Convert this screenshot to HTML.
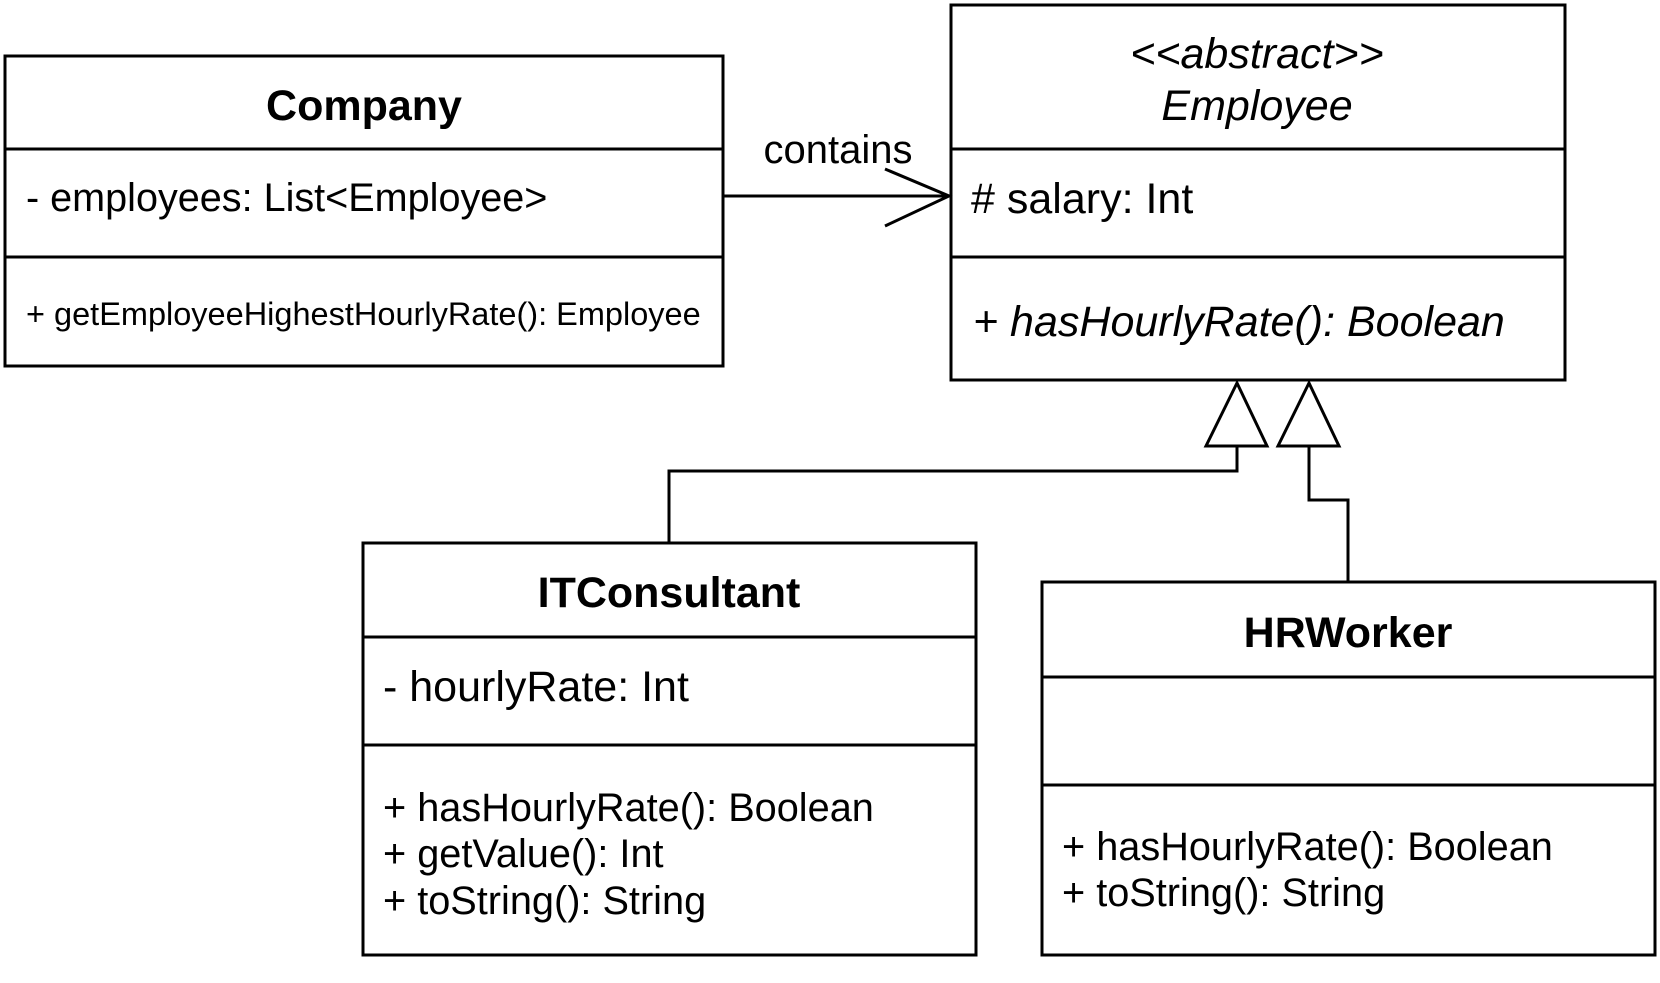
<!DOCTYPE html>
<html><head><style>html,body{margin:0;padding:0;background:#fff}</style></head><body>
<svg width="1660" height="978" xmlns="http://www.w3.org/2000/svg" font-family="Liberation Sans, Arial, sans-serif" fill="#000">
<g fill="none" stroke="#000" stroke-width="3">
<rect x="5" y="56" width="718" height="310"/>
<line x1="5" y1="149" x2="723" y2="149"/><line x1="5" y1="257" x2="723" y2="257"/>
<rect x="951" y="5" width="614" height="375"/>
<line x1="951" y1="149" x2="1565" y2="149"/><line x1="951" y1="257" x2="1565" y2="257"/>
<rect x="363" y="543" width="613" height="412"/>
<line x1="363" y1="637" x2="976" y2="637"/><line x1="363" y1="745" x2="976" y2="745"/>
<rect x="1042" y="582" width="613" height="373"/>
<line x1="1042" y1="677" x2="1655" y2="677"/><line x1="1042" y1="785" x2="1655" y2="785"/>
<line x1="723" y1="196" x2="949" y2="196"/>
<polyline points="885,169 949,196 885,226"/>
<polygon points="1237,383 1206,446 1267,446"/>
<polygon points="1309,383 1278,446 1339,446"/>
<polyline points="1237,446 1237,471 669,471 669,543"/>
<polyline points="1309,446 1309,500 1348,500 1348,582"/>
</g>
<g>
<text x="364" y="120" text-anchor="middle" font-weight="bold" font-size="43">Company</text>
<text x="26" y="211" font-size="39.6">- employees: List&lt;Employee&gt;</text>
<text x="26" y="325" font-size="32.5">+ getEmployeeHighestHourlyRate(): Employee</text>
<text x="1257" y="68" text-anchor="middle" font-style="italic" font-size="43">&lt;&lt;abstract&gt;&gt;</text>
<text x="1257" y="120" text-anchor="middle" font-style="italic" font-size="43">Employee</text>
<text x="971" y="213" font-size="43">#&#160;salary: Int</text>
<text x="973" y="336" font-style="italic" font-size="43">+ hasHourlyRate(): Boolean</text>
<text x="838" y="163" text-anchor="middle" font-size="40">contains</text>
<text x="669" y="607" text-anchor="middle" font-weight="bold" font-size="43">ITConsultant</text>
<text x="383" y="701" font-size="43">- hourlyRate: Int</text>
<text x="383" y="821" font-size="39.7">+ hasHourlyRate(): Boolean</text>
<text x="383" y="867" font-size="39.7">+ getValue(): Int</text>
<text x="383" y="914" font-size="39.7">+ toString(): String</text>
<text x="1348" y="647" text-anchor="middle" font-weight="bold" font-size="43">HRWorker</text>
<text x="1062" y="860" font-size="39.7">+ hasHourlyRate(): Boolean</text>
<text x="1062" y="906" font-size="39.7">+ toString(): String</text>
</g>
</svg>
</body></html>
